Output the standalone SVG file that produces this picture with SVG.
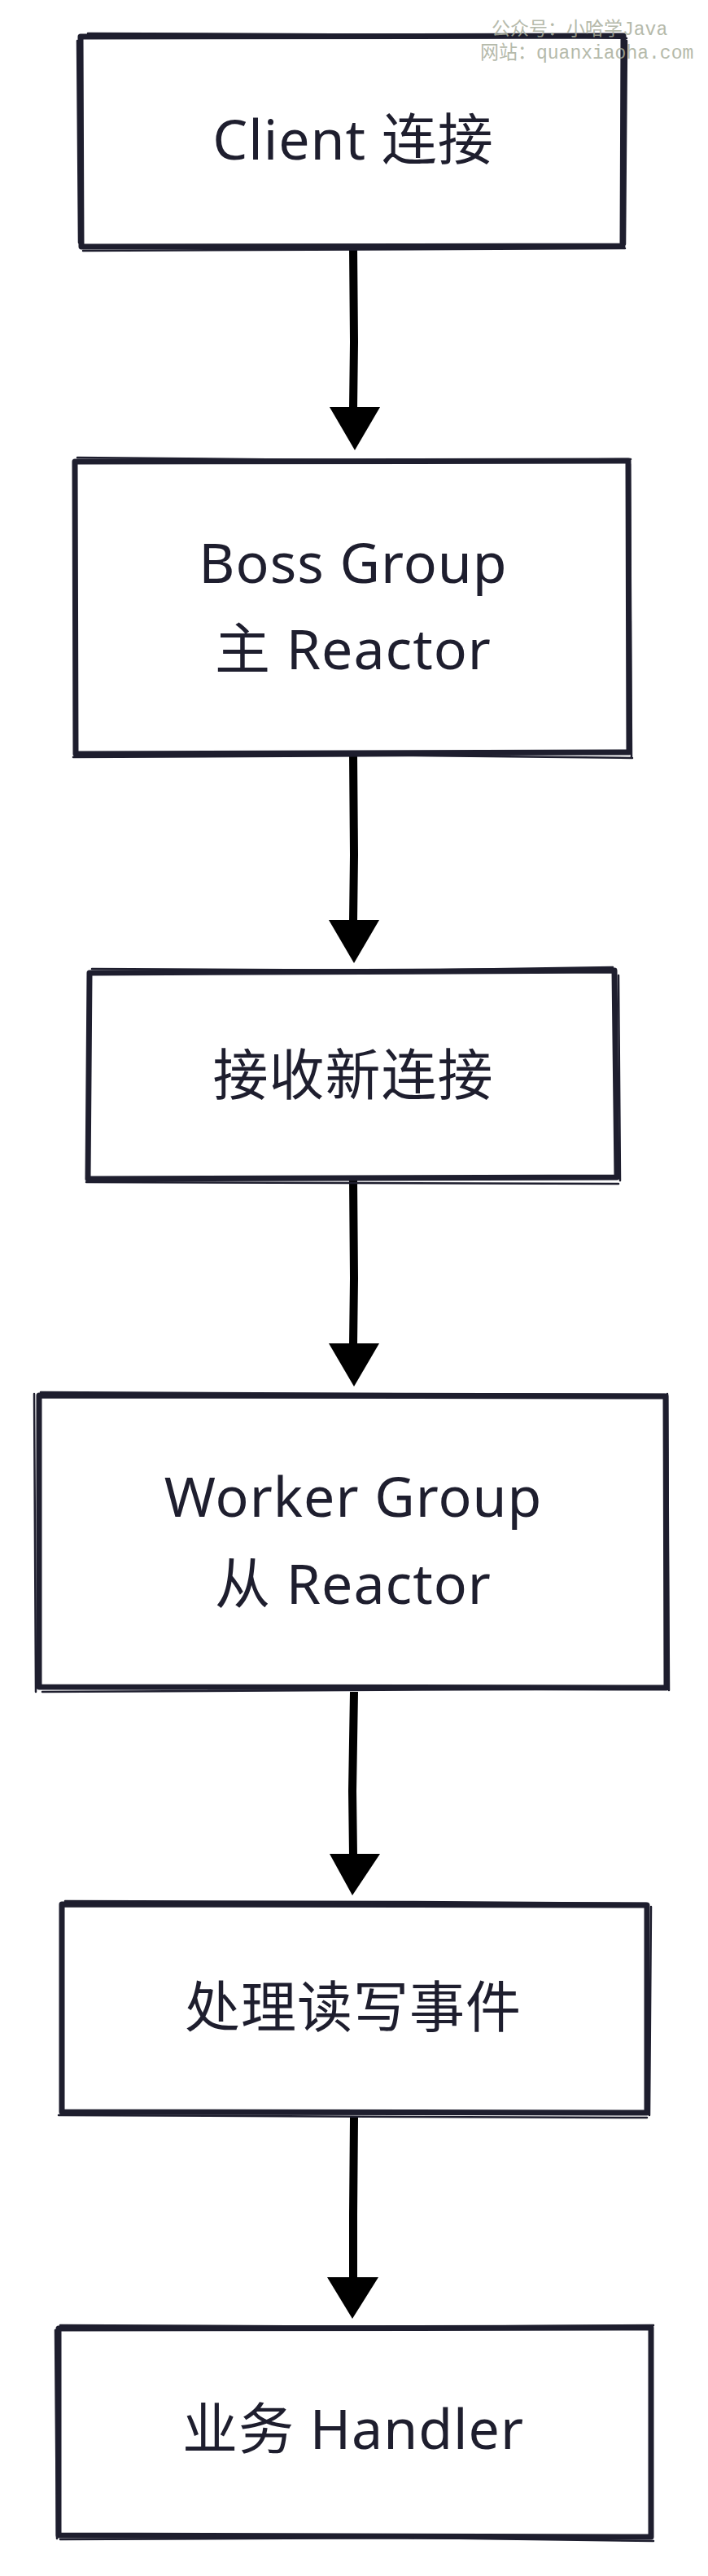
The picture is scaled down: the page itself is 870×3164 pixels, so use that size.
<svg xmlns="http://www.w3.org/2000/svg" width="870" height="3164" viewBox="0 0 870 3164">
  <style>
    .box { fill: #ffffff; stroke: #1e1e2e; stroke-width: 7; stroke-linejoin: round; stroke-linecap: round; }
    .sk { fill: none; stroke: #1e1e2e; stroke-width: 2.5; stroke-linecap: round; }
    .lbl { font-family: "Noto Sans", "Noto Sans CJK SC", sans-serif; font-size: 68px; fill: #1e1e2e; text-anchor: middle; letter-spacing: 1px; }
    .shaft { fill: none; stroke: #000000; stroke-width: 10; stroke-linecap: butt; }
    .head { fill: #000000; }
    .wm { font-family: "Liberation Mono", "Noto Sans CJK SC", monospace; font-size: 23px; fill: #a9ae9c; opacity: 0.85; }
  </style>
  <rect x="0" y="0" width="870" height="3164" fill="#ffffff"/>

  <g id="connectors">
    <g id="a1">
      <path class="shaft" d="M434 303 L435 420 L434 502"/>
      <polygon class="head" points="405,500 467,500 436,553"/>
    </g>
    <g id="a2">
      <path class="shaft" d="M434 925 L435 1050 L434 1132"/>
      <polygon class="head" points="404,1130 466,1130 435,1183"/>
    </g>
    <g id="a3">
      <path class="shaft" d="M434 1447 L435 1570 L434 1652"/>
      <polygon class="head" points="404,1650 466,1650 435,1703"/>
    </g>
    <g id="a4">
      <path class="shaft" d="M435 2078 L433 2200 L434 2279"/>
      <polygon class="head" points="405,2277 467,2277 433,2328"/>
    </g>
    <g id="a5">
      <path class="shaft" d="M435 2600 L434 2720 L434 2799"/>
      <polygon class="head" points="402,2797 465,2797 433,2848"/>
    </g>
  </g>

  <g id="n1">
    <path class="box" d="M99 45 L766 44 L765 302 L100 303 Z"/>
    <path class="sk" d="M108 41 L600 43 L770 47 M95 50 L97 298 M770 50 L768 300 M102 308 L768 305"/>
    <text class="lbl" x="434" y="196">Client 连接</text>
  </g>

  <g id="n2">
    <path class="box" d="M92 567 L772 566 L773 924 L93 926 Z"/>
    <path class="sk" d="M95 562 L500 566 L775 564 M774 570 L776 930 M90 930 L500 928 L777 931"/>
    <text class="lbl" x="434" y="716">Boss Group</text>
    <text class="lbl" x="434" y="822">主 Reactor</text>
  </g>

  <g id="n3">
    <path class="box" d="M110 1195 L755 1192 L758 1446 L108 1448 Z"/>
    <path class="sk" d="M113 1190 L500 1192 L753 1188 M760 1198 L762 1450 M106 1452 L760 1454"/>
    <text class="lbl" x="434" y="1345">接收新连接</text>
  </g>

  <g id="n4">
    <path class="box" d="M48 1714 L818 1715 L819 2073 L48 2072 Z"/>
    <path class="sk" d="M42 1712 L44 2078 M50 1710 L500 1712 L817 1713 M820 1712 L822 2076 M52 2078 L818 2074"/>
    <text class="lbl" x="434" y="1863">Worker Group</text>
    <text class="lbl" x="434" y="1970">从 Reactor</text>
  </g>

  <g id="n5">
    <path class="box" d="M76 2339 L795 2340 L795 2595 L76 2594 Z"/>
    <path class="sk" d="M80 2335 L500 2336 L794 2338 M800 2342 L798 2598 M72 2598 L500 2600 L795 2601"/>
    <text class="lbl" x="434" y="2490">处理读写事件</text>
  </g>

  <g id="n6">
    <path class="box" d="M72 2860 L800 2859 L800 3116 L72 3114 Z"/>
    <path class="sk" d="M74 2856 L500 2858 L803 2856 M68 2862 L70 3118 M74 3119 L500 3117 L803 3121"/>
    <text class="lbl" x="434" y="3008">业务 Handler</text>
  </g>

  <g id="watermark">
    <text class="wm" x="604" y="43">公众号：小哈学Java</text>
    <text class="wm" x="590" y="72">网站：quanxiaoha.com</text>
  </g>
</svg>
